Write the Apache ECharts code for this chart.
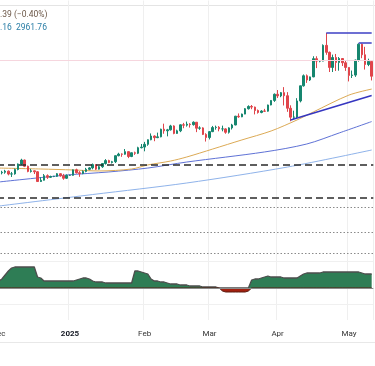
<!DOCTYPE html>
<html><head><meta charset="utf-8">
<script src="https://cdn.jsdelivr.net/npm/echarts@6/dist/echarts.min.js"></script>
<style>html,body{margin:0;padding:0;background:#fff}#c{width:375px;height:366px}</style>
</head><body><div id="c"></div>
<script>
const dates = [
'2024-12-02','2024-12-03','2024-12-04','2024-12-05','2024-12-06','2024-12-09','2024-12-10','2024-12-11','2024-12-12','2024-12-13',
'2024-12-16','2024-12-17','2024-12-18','2024-12-19','2024-12-20','2024-12-23','2024-12-24','2024-12-25','2024-12-26','2024-12-27',
'2024-12-30','2024-12-31',
'2025-01-01','2025-01-02','2025-01-03','2025-01-06','2025-01-07','2025-01-08','2025-01-09','2025-01-10','2025-01-13','2025-01-14',
'2025-01-15','2025-01-16','2025-01-17','2025-01-20','2025-01-21','2025-01-22','2025-01-23','2025-01-24','2025-01-27','2025-01-28',
'2025-01-29','2025-01-30','2025-01-31',
'2025-02-03','2025-02-04','2025-02-05','2025-02-06','2025-02-07','2025-02-10','2025-02-11','2025-02-12','2025-02-13','2025-02-14',
'2025-02-17','2025-02-18','2025-02-19','2025-02-20','2025-02-21','2025-02-24','2025-02-25','2025-02-26','2025-02-27','2025-02-28',
'2025-03-03','2025-03-04','2025-03-05','2025-03-06','2025-03-07','2025-03-10','2025-03-11','2025-03-12','2025-03-13','2025-03-14',
'2025-03-17','2025-03-18','2025-03-19','2025-03-20','2025-03-21','2025-03-24','2025-03-25','2025-03-26','2025-03-27','2025-03-28',
'2025-03-31',
'2025-04-01','2025-04-02','2025-04-03','2025-04-04','2025-04-07','2025-04-08','2025-04-09','2025-04-10','2025-04-11','2025-04-14',
'2025-04-15','2025-04-16','2025-04-17','2025-04-18','2025-04-21','2025-04-22','2025-04-23','2025-04-24','2025-04-25','2025-04-28',
'2025-04-29','2025-04-30',
'2025-05-01','2025-05-02','2025-05-05','2025-05-06','2025-05-07','2025-05-08','2025-05-09','2025-05-12'
];
const open = [
2650,2640,2643,2650,2632,2633,2660,2694,2718,2680,2648,2652,2646,2586,2594,2622,2612,2617,2618,2634,2621,2606,
2624,2624,2658,2640,2635,2648,2661,2670,2690,2662,2677,2697,2715,2703,2708,2745,2755,2754,2770,2740,2763,2760,2794,
2798,2815,2843,2866,2856,2861,2908,2898,2904,2928,2882,2898,2935,2933,2939,2936,2951,2914,2916,2876,
2857,2893,2918,2920,2910,2910,2889,2916,2934,2988,2984,3001,3034,3048,3044,3023,3011,3020,3019,3057,3085,
3123,3113,3133,3114,3037,2982,2983,3082,3175,3237,3211,3230,3342,3327,3327,3424,3381,3288,3349,3319,3343,3317,
3288,3239,3241,3333,3431,3366,3306,3325
];
const high = [
2656,2652,2658,2654,2645,2666,2697,2726,2721,2684,2664,2654,2650,2612,2632,2630,2622,2621,2638,2637,2633,2630,
2628,2660,2665,2650,2655,2670,2675,2697,2693,2682,2700,2724,2720,2713,2746,2763,2759,2786,2772,2765,2770,2800,2817,
2830,2845,2882,2870,2887,2911,2942,2910,2935,2932,2905,2938,2947,2955,2945,2956,2952,2926,2920,2883,
2897,2928,2930,2927,2930,2914,2920,2941,2990,3005,3004,3038,3055,3057,3047,3029,3025,3033,3059,3087,3128,
3149,3137,3167,3136,3055,3022,3099,3176,3245,3245,3232,3357,3357,3330,3430,3500,3386,3367,3371,3352,3345,3329,
3290,3269,3336,3437,3435,3415,3342,3325
];
const low = [
2622,2630,2634,2624,2614,2628,2655,2689,2675,2643,2641,2632,2584,2583,2592,2602,2608,2613,2614,2616,2597,2602,
2620,2622,2635,2615,2631,2643,2656,2661,2657,2660,2670,2690,2699,2697,2700,2741,2738,2751,2730,2736,2750,2755,2790,
2772,2806,2840,2834,2853,2858,2880,2864,2900,2877,2880,2890,2914,2924,2918,2930,2890,2904,2872,2832,
2845,2890,2905,2895,2895,2880,2881,2906,2932,2978,2982,3000,3029,3031,2999,3004,3006,3014,3016,3055,3076,
3100,3105,3054,3015,2957,2970,2972,3073,3170,3193,3205,3228,3284,3320,3326,3366,3260,3260,3266,3268,3297,3267,
3202,3223,3230,3324,3345,3275,3296,3208
];
const close = [
2640,2643,2650,2632,2633,2660,2694,2718,2680,2648,2652,2646,2586,2594,2622,2612,2617,2618,2634,2621,2606,2624,
2624,2658,2640,2635,2648,2661,2670,2690,2662,2677,2697,2715,2703,2708,2745,2755,2754,2770,2740,2763,2760,2794,2798,
2815,2843,2866,2856,2861,2908,2898,2904,2928,2882,2898,2935,2933,2939,2936,2951,2914,2916,2876,2857,
2893,2918,2920,2910,2910,2889,2916,2934,2988,2984,3001,3034,3048,3044,3023,3011,3020,3019,3057,3085,3123,
3113,3133,3114,3037,2982,2983,3082,3175,3237,3211,3230,3342,3327,3327,3424,3381,3288,3349,3319,3343,3317,3288,
3239,3241,3333,3431,3366,3306,3325,3234
];
// moving averages at selected bars
const ma50 = [['2024-12-02',2669],['2024-12-19',2663],['2025-01-02',2657],['2025-01-14',2651],['2025-01-28',2663],['2025-02-04',2688],
  ['2025-02-13',2712],['2025-02-20',2737],['2025-03-04',2786],['2025-03-17',2842],['2025-03-28',2897],['2025-04-09',2965],
  ['2025-04-16',3014],['2025-05-01',3118],['2025-05-12',3155]];
const ma100 = [['2024-12-02',2583],['2024-12-31',2626],['2025-01-17',2645],['2025-02-04',2669],['2025-02-20',2706],
  ['2025-03-26',2768],['2025-04-14',2817],['2025-04-28',2885],['2025-05-12',2955]];
const ma200 = [['2024-12-02',2435],['2025-01-10',2506],['2025-02-20',2577],['2025-04-04',2675],['2025-05-12',2780]];
// lower oscillator pane
const osc = [7,9,13,17,20, 21,21,21,21,21,21,21, 11,10, 7,7,7,7,7,7,7,7,7,7, 8,9,10,10,9, 7,6,6,6,
  5,5,5,5,5,5,5,5,5, 17,17,16,15,14, 9,7,7,6,6, 5,4,4,4,3,3,3, 2,2,2,2, 1,1,1,1,1, 0, -3, -4,-4,-4,-4,-4,-4,-4, -3,
  8,9,9,10,11,12, 11,11,11,11, 10,10,10,10,10, 12,14, 15,15,15,15,15, 16,16,16,16,16,16,16,16,16,16,16,16, 15,14,14,14];
// reference levels
const dashedLevels = [2688, 2485];
const dottedLevels = [2429, 2275, 2146];
const lastPriceLevel = 3334;
const topLevels = [['2025-04-22',3500],['2025-05-06',3440]];
const trendLine = [['2025-04-07',2965],['2025-05-12',3115]];
const tickDates = ['2024-12-02','2025-01-01','2025-02-03','2025-03-03','2025-04-01','2025-05-01'];
const tickLabels = ['Dec','2025','Feb','Mar','Apr','May'];

const ohlc = dates.map((d,i)=>[open[i],close[i],low[i],high[i]]);
const tickIdx = tickDates.map(d=>dates.indexOf(d));
const lastDate = dates[dates.length-1];

const chart = echarts.init(document.getElementById('c'));
const mk = [];
dashedLevels.forEach(v=>mk.push({yAxis:v,lineStyle:{color:'#2a2a2a',type:[7,4],width:1.5}}));
dottedLevels.forEach(v=>mk.push({yAxis:v,lineStyle:{color:'#8a8a8a',type:[1.5,2],width:1}}));
mk.push({yAxis:lastPriceLevel,lineStyle:{color:'#f6d6de',type:'solid',width:1}});
topLevels.forEach(p=>mk.push([{coord:p,lineStyle:{color:'#3d3fc4',width:1.5,type:'solid'}},{coord:[lastDate,p[1]]}]));
mk.push([{coord:trendLine[0],lineStyle:{color:'#3536c0',width:1.5,type:'solid'}},{coord:trendLine[1]}]);

const xBase = {type:'category',data:dates,boundaryGap:true,axisLine:{show:false},axisTick:{show:false},
  splitLine:{show:true,interval:(i)=>tickIdx.indexOf(i)>0,lineStyle:{color:'#efefef',width:1}}};

chart.setOption({
  animation:false,
  backgroundColor:'#ffffff',
  grid:[{left:-3,right:1.7,top:0.5,height:260,containLabel:false,outerBoundsMode:'none'},
        {left:-3,right:1.7,top:250,height:70,containLabel:false,outerBoundsMode:'none'}],
  xAxis:[
    Object.assign({},xBase,{gridIndex:0,axisLabel:{show:false}}),
    Object.assign({},xBase,{gridIndex:1,axisLabel:{show:true,interval:(i)=>tickIdx.indexOf(i)>=0,margin:10,
      fontSize:8,fontFamily:'Roboto',color:'#333',hideOverlap:false,
      formatter:(v)=>{const k=tickDates.indexOf(v);const t=tickLabels[k];return k===1?'{b|'+t+'}':t;},
      rich:{b:{fontWeight:'bold',fontSize:8,fontFamily:'Roboto',color:'#131722'}}}})
  ],
  yAxis:[{gridIndex:0,min:2100,max:3700,show:false},{gridIndex:1,min:-32,max:38,show:false}],
  series:[
    {type:'line',name:'MA200',data:ma200,xAxisIndex:0,yAxisIndex:0,showSymbol:false,smooth:0.3,z:2,
      lineStyle:{color:'#8fb3ea',width:1}},
    {type:'line',name:'MA100',data:ma100,xAxisIndex:0,yAxisIndex:0,showSymbol:false,smooth:0.3,z:2,
      lineStyle:{color:'#5f72d6',width:1}},
    {type:'line',name:'MA50',data:ma50,xAxisIndex:0,yAxisIndex:0,showSymbol:false,smooth:0.3,z:2,
      lineStyle:{color:'#dcaa55',width:1}},
    {type:'candlestick',name:'XAUUSD',data:ohlc,xAxisIndex:0,yAxisIndex:0,barWidth:'62%',z:3,
      itemStyle:{color:'#16866f',color0:'#e0454b',borderColor:'#16866f',borderColor0:'#e0454b',borderWidth:1},
      markLine:{silent:true,symbol:['none','none'],label:{show:false},animation:false,data:mk}},
    {type:'line',name:'osc+',data:osc.map(v=>Math.max(v,0)),xAxisIndex:1,yAxisIndex:1,showSymbol:false,z:2,
      lineStyle:{color:'#4d4d4d',width:1.3},areaStyle:{color:'#2e7d55',opacity:1,origin:0},
      markLine:{silent:true,symbol:['none','none'],label:{show:false},data:[
        {yAxis:27,lineStyle:{color:'#f0f0f0',type:'solid',width:1}},
        {yAxis:-16,lineStyle:{color:'#f0f0f0',type:'solid',width:1}},
        {yAxis:0,lineStyle:{color:'#8a8a8a',type:'solid',width:1}}]}},
    {type:'line',name:'osc-',data:osc.map(v=>Math.min(v,0)),xAxisIndex:1,yAxisIndex:1,showSymbol:false,z:2,
      lineStyle:{color:'#5a1a10',width:1},areaStyle:{color:'#a3200f',opacity:1,origin:0}}
  ],
  graphic:[
    {type:'line',shape:{x1:0,y1:5.5,x2:375,y2:5.5},style:{stroke:'#e4e4e4',lineWidth:1},silent:true},
    {type:'line',shape:{x1:0,y1:342.5,x2:375,y2:342.5},style:{stroke:'#e8e8e8',lineWidth:1},silent:true},
    {type:'text',left:0,top:10,style:{text:'.39 (−0.40%)',fill:'#6b5646',font:'8.5px Roboto'}},
    {type:'text',left:0,top:23.5,style:{text:'.16  2961.76',fill:'#2a7ea6',font:'8.5px Roboto'}}
  ]
});
</script></body></html>
